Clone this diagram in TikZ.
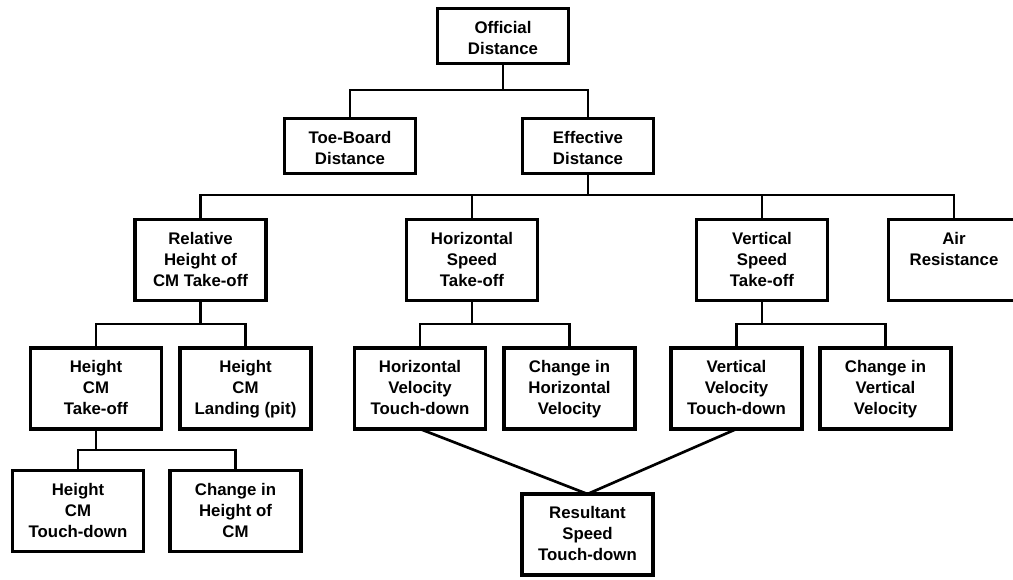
\documentclass[tikz,border=0pt]{standalone}
\usepackage{fontspec}
\setmainfont{Liberation Sans}
\newcommand\tpa{\rule{0pt}{12.5pt}}
\newcommand\tpb{\rule{0pt}{17pt}}
\begin{document}
\begin{tikzpicture}[x=0.75pt,y=-0.75pt,
  box/.style={draw=black,line width=2.6pt,fill=white,minimum width=98.25pt,
    minimum height=60.75pt,inner sep=0pt,outer sep=0pt,align=center,
    font=\fontsize{12.6}{15.75}\selectfont\bfseries,
    execute at end node=\strut},
  sbox/.style={box,minimum height=41.25pt},
  conn/.style={draw=black,line width=2pt}]
\useasboundingbox (0,0) rectangle (1013,580);
\clip (0,0) rectangle (1013,580);
% nodes
\node[sbox] (off) at (503,36) {\tpb Official\\Distance};
\node[sbox] (toe) at (350,146) {\tpb Toe-Board\\Distance};
\node[sbox] (eff) at (588,146) {\tpb Effective\\Distance};
\node[box] (rel) at (200.5,260) {\tpa Relative\\Height of\\CM Take-off};
\node[box] (hs) at (472,260) {\tpa Horizontal\\Speed\\Take-off};
\node[box] (vs) at (762,260) {\tpa Vertical\\Speed\\Take-off};
\node[box] (air) at (954,260) {\tpa Air\\Resistance\\\mbox{}};
\node[box] (hct) at (96,388.5) {\tpa Height\\CM\\Take-off};
\node[box] (hcl) at (245.5,388.5) {\tpa Height\\CM\\Landing (pit)};
\node[box] (hvt) at (420,388.5) {\tpa Horizontal\\Velocity\\Touch-down};
\node[box] (chv) at (569.5,388.5) {\tpa Change in\\Horizontal\\Velocity};
\node[box] (vvt) at (736.5,388.5) {\tpa Vertical\\Velocity\\Touch-down};
\node[box] (cvv) at (885.5,388.5) {\tpa Change in\\Vertical\\Velocity};
\node[box] (hctd) at (78,511) {\tpa Height\\CM\\Touch-down};
\node[box] (chc) at (235.5,511) {\tpa Change in\\Height of\\CM};
\node[box] (res) at (587.5,534.5) {\tpa Resultant\\Speed\\Touch-down};
% bus coordinates
\coordinate (b1) at (503,90);
\coordinate (b2) at (588,195);
\coordinate (b3) at (200.5,324);
\coordinate (b4) at (472,324);
\coordinate (b5) at (762,324);
\coordinate (b6) at (96,450);
% connectors
\draw[conn] (off.south) -- (b1);
\draw[conn] (toe.north) |- (b1) -| (eff.north);
\draw[conn] (eff.south) -- (b2);
\draw[conn] (rel.north) |- (b2) -| (air.north);
\draw[conn] (hs.north) -- (hs.north |- b2);
\draw[conn] (vs.north) -- (vs.north |- b2);
\draw[conn] (rel.south) -- (b3);
\draw[conn] (hct.north) |- (b3) -| (hcl.north);
\draw[conn] (hs.south) -- (b4);
\draw[conn] (hvt.north) |- (b4) -| (chv.north);
\draw[conn] (vs.south) -- (b5);
\draw[conn] (vvt.north) |- (b5) -| (cvv.north);
\draw[conn] (hct.south) -- (b6);
\draw[conn] (hctd.north) |- (b6) -| (chc.north);
\draw[conn] (hvt.south) -- (res.north);
\draw[conn] (vvt.south) -- (res.north);
\end{tikzpicture}
\end{document}
